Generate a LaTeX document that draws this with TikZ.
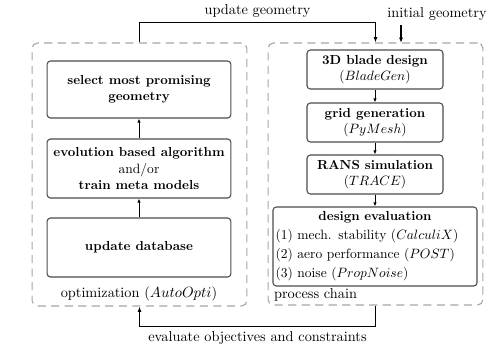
\documentclass[tikz,border=0pt]{standalone}
\usepackage{tikz}
\usepackage{amsmath, amssymb}
\usetikzlibrary{arrows.meta}
\usetikzlibrary{positioning}
\usetikzlibrary{calc}

\newcommand{\boldtxt}[1]{{\fontsize{9.7}{11.6}\selectfont\bfseries #1}}

\tikzset{
  stepbox/.style={draw=black!70, line width=0.8pt, rounded corners=2.5pt, align=center, inner sep=2pt},
  group/.style={draw=black!35, line width=0.8pt, dash pattern=on 6pt off 4pt, rounded corners=4pt, inner sep=0pt},
  grouplabel/.style={font=\fontsize{10.6}{12.7}\selectfont},
  flow/.style={-{Latex[length=4pt,width=3pt]}, line width=1pt},
  link/.style={-{Latex[length=3pt,width=2.5pt]}, line width=0.6pt},
}

\begin{document}
\begin{tikzpicture}[x=0.74pt, y=-0.74pt]
    \useasboundingbox (0,0) rectangle (504,346);
    % dashed groups
    \node[group, minimum width=159pt, minimum height=194.6pt] (opt) at (139.5,174.5) {};
    \node[group, minimum width=159pt, minimum height=193.9pt] (chain) at (375.5,174) {};
    % optimization side
    \node[stepbox, minimum width=136pt, minimum height=42.2pt] (select) at (139,89.5) {\boldtxt{select most promising}\\\boldtxt{geometry}};
    \node[stepbox, minimum width=136pt, minimum height=43.7pt] (evo) at (139,168.5) {\boldtxt{evolution based algorithm}\\and/or\\\boldtxt{train meta models}};
    \node[stepbox, minimum width=136pt, minimum height=43.7pt] (db) at (139,247.5) {\boldtxt{update database}};
    \node[grouplabel, below=3pt of db] (optlabel) {optimization ($AutoOpti$)};
    \draw[link] (db) -- (evo);
    \draw[link] (evo) -- (select);
    % process chain side
    \node[stepbox, minimum width=100.6pt, minimum height=28.9pt] (blade) at (375,69.5) {\boldtxt{3D blade design}\\($BladeGen$)};
    \node[stepbox, minimum width=100.6pt, minimum height=28.9pt] (grid) at (375,122.5) {\boldtxt{grid generation}\\($PyMesh$)};
    \node[stepbox, minimum width=100.6pt, minimum height=28.9pt] (rans) at (375,174.5) {\boldtxt{RANS simulation}\\($TRACE$)};
    \node[stepbox, minimum width=151pt, minimum height=58.5pt, text width=147pt, align=left] (eval) at (375,246.5)
        {\makebox[147pt]{\boldtxt{design evaluation}}\\[2pt]
         (1) mech. stability ($CalculiX$)\\[2pt]
         (2) aero performance ($POST$)\\[2pt]
         (3) noise ($PropNoise$)};
    \node[grouplabel, anchor=north west, inner sep=1pt] (chainlabel) at (eval.south west) {process chain};
    \draw[link] (blade) -- (grid);
    \draw[link] (grid) -- (rans);
    \draw[link] (rans) -- (eval);
    % loop between the groups
    \draw[flow] (opt.north) -- ++(0,-20) -| node[grouplabel, pos=0.25, above] {update geometry} (chain.north);
    \node[grouplabel] (init) at (437,14) {initial geometry};
    \coordinate (initin) at (401,43);
    \draw[flow] (init.south -| initin) -- (initin);
    \draw[flow] (chain.south) -- ++(0,21) -| node[grouplabel, pos=0.25, below] {evaluate objectives and constraints} (opt.south);
\end{tikzpicture}
\end{document}
